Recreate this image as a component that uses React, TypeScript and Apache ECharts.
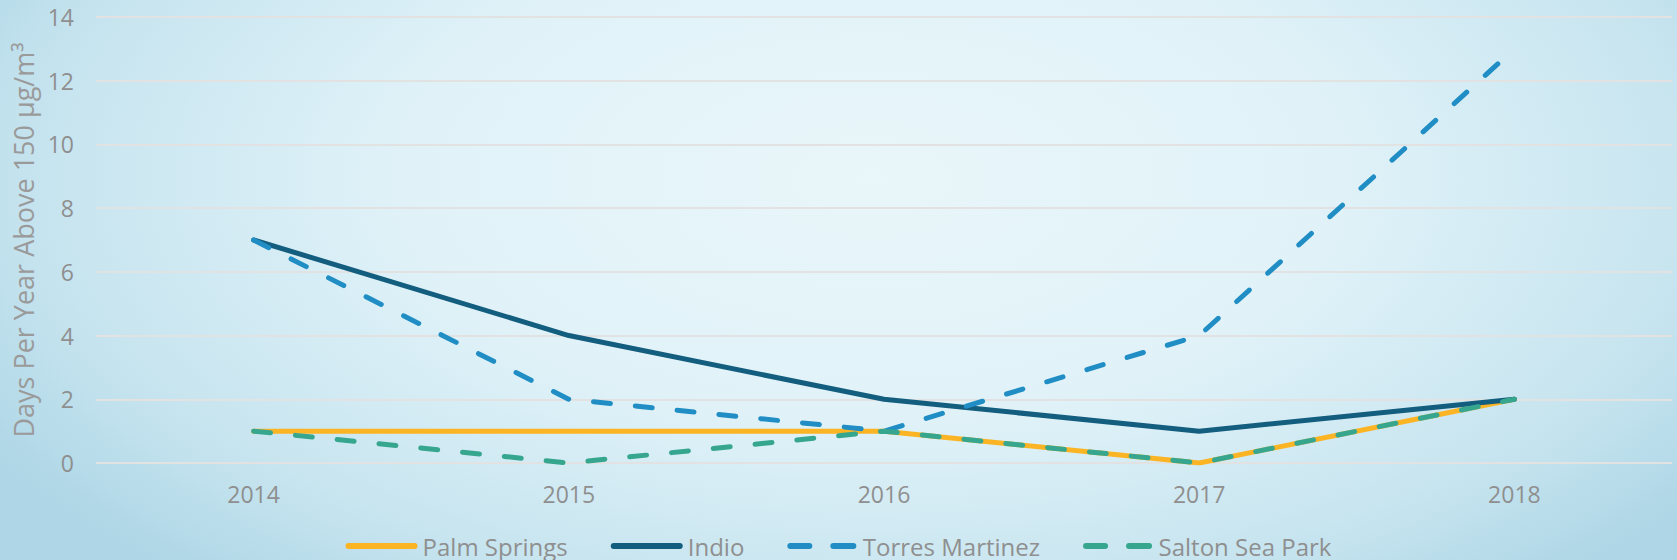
import React, { useEffect, useRef } from "react";
import * as echarts from "echarts";

const years = ["2014", "2015", "2016", "2017", "2018"];
const palmSprings = [1, 1, 1, 0, 2];
const indio = [7, 4, 2, 1, 2];
const torresMartinez = [7, 2, 1, 4, 13];
const saltonSeaPark = [1, 0, 1, 0, 2];
const seriesNames = ["Palm Springs", "Indio", "Torres Martinez", "Salton Sea Park"];
const yAxisTitle = "Days Per Year Above 150 µg/m³";

const FONT = "'Open Sans', sans-serif";
const TEXT = "#8f8f8f";

const SOLID_ICON = "path://M3,0 H69 A3,3 0 0 1 69,6 H3 A3,3 0 0 1 3,0 Z";
const DASH_ICON =
  "path://M3,0 H22 A3,3 0 0 1 22,6 H3 A3,3 0 0 1 3,0 Z M46,0 H66 A3,3 0 0 1 66,6 H46 A3,3 0 0 1 46,0 Z";

export default function App() {
  const ref = useRef<HTMLDivElement>(null);
  useEffect(() => {
    document.body.style.margin = "0";
    const chart = echarts.init(ref.current!, null, { renderer: "svg" });
    const mk = (name: string, data: number[], color: string, dashed: boolean) => ({
      name,
      type: "line",
      data,
      symbol: "none",
      lineStyle: {
        color,
        width: 5,
        type: dashed ? [17, 25] : "solid",
        cap: "round",
        join: "round",
      },
      itemStyle: { color },
    });
    chart.setOption({
      animation: false,
      backgroundColor: "transparent",
      textStyle: { fontFamily: FONT },
      grid: { left: 96, right: 5, top: 17, bottom: 97, containLabel: false },
      legend: {
        top: 529,
        left: "center",
        itemWidth: 72,
        itemHeight: 6,
        itemGap: 43,
        textStyle: {
          color: TEXT,
          fontSize: 24,
          lineHeight: 24,
          fontFamily: FONT,
          padding: [0, 0, 0, 0],
        },
        data: seriesNames.map((n, i) => ({ name: n, icon: i < 2 ? SOLID_ICON : DASH_ICON })),
      },
      xAxis: {
        type: "category",
        data: years,
        boundaryGap: true,
        axisLine: { show: false },
        axisTick: { show: false },
        axisLabel: { color: TEXT, fontSize: 23, fontFamily: FONT, margin: 19 },
      },
      yAxis: {
        type: "value",
        min: 0,
        max: 14,
        interval: 2,
        name: yAxisTitle,
        nameLocation: "middle",
        nameRotate: 90,
        nameGap: 58,
        nameTextStyle: { color: "#9a9a9a", fontSize: 27, fontFamily: FONT },
        axisLine: { show: false },
        axisTick: { show: false },
        axisLabel: { color: TEXT, fontSize: 23, fontFamily: FONT, margin: 22 },
        splitLine: { lineStyle: { color: "#e2e2e2", width: 2 } },
      },
      series: [
        mk(seriesNames[0], palmSprings, "#fbb424", false),
        mk(seriesNames[1], indio, "#135d7e", false),
        mk(seriesNames[2], torresMartinez, "#208ec4", true),
        mk(seriesNames[3], saltonSeaPark, "#37a68f", true),
      ],
    });
    return () => chart.dispose();
  }, []);
  return (
    <div
      ref={ref}
      style={{
        width: 1677,
        height: 560,
        background:
          "radial-gradient(ellipse 62% 95% at 52% 32%, #e9f6fa 0%, #e0f2f8 45%, #c6e4ef 80%, #aed6e6 100%)",
      }}
    />
  );
}
